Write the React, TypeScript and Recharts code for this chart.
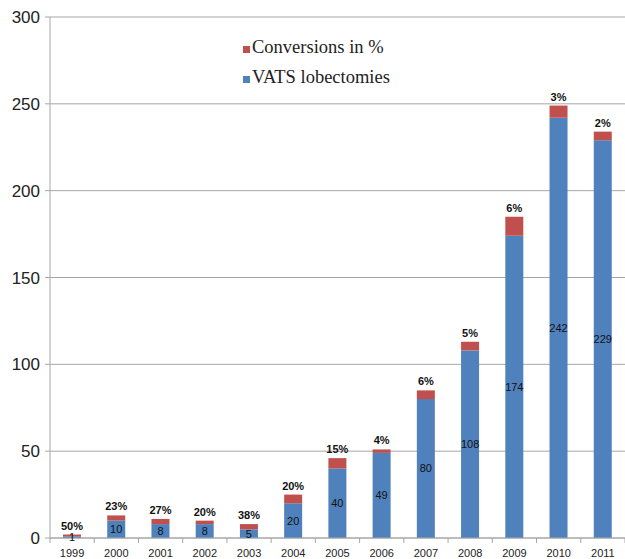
import { Bar, BarChart, CartesianGrid, LabelList, Legend, XAxis, YAxis } from "recharts";

const years = ["1999", "2000", "2001", "2002", "2003", "2004", "2005", "2006", "2007", "2008", "2009", "2010", "2011"];
const vats = [1, 10, 8, 8, 5, 20, 40, 49, 80, 108, 174, 242, 229];
const conversions = [1, 3, 3, 2, 3, 5, 6, 2, 5, 5, 11, 7, 5];
const convPct = ["50%", "23%", "27%", "20%", "38%", "20%", "15%", "4%", "6%", "5%", "6%", "3%", "2%"];
const yTicks = [0, 50, 100, 150, 200, 250, 300];

const BLUE = "#4F81BD";
const RED = "#C0504D";
const AXIS = "#A6A6A6";

const data = years.map((year, i) => ({
  year,
  vats: vats[i],
  conv: conversions[i],
  pct: convPct[i],
}));

const BAND = 575 / years.length;

function YearTick(props: any) {
  const { x, y, payload, index } = props;
  return (
    <g>
      <line x1={x - BAND / 2} x2={x - BAND / 2} y1={y} y2={y + 5} stroke={AXIS} />
      {index === years.length - 1 && (
        <line x1={x + BAND / 2} x2={x + BAND / 2} y1={y} y2={y + 5} stroke={AXIS} />
      )}
      <text x={x} y={y + 19} textAnchor="middle" fontSize={11} fill="#222" fontFamily="'Liberation Sans', Arial, sans-serif">
        {payload.value}
      </text>
    </g>
  );
}

function LegendBox() {
  const rows = [
    { color: RED, label: "Conversions in %" },
    { color: BLUE, label: "VATS lobectomies" },
  ];
  return (
    <div style={{ fontFamily: "'Liberation Serif', 'Times New Roman', serif", fontSize: 18.5, color: "#222" }}>
      {rows.map((r) => (
        <div key={r.label} style={{ display: "flex", alignItems: "center", height: 30, lineHeight: "30px" }}>
          <span style={{ display: "inline-block", width: 7, height: 7, background: r.color, marginRight: 2, marginTop: 5 }} />
          {r.label}
        </div>
      ))}
    </div>
  );
}

export default function App() {
  return (
    <div style={{ position: "absolute", left: 0, top: 0, background: "#fff" }}>
      <BarChart width={625} height={559} data={data} margin={{ top: 17, right: 0, left: 0, bottom: 0 }} barSize={18}>
        <CartesianGrid vertical={false} stroke={AXIS} strokeWidth={1} />
        <XAxis
          dataKey="year"
          height={21}
          tickLine={false}
          tickSize={0}
          tickMargin={0}
          axisLine={{ stroke: AXIS }}
          tick={<YearTick />}
          interval={0}
        />
        <YAxis
          width={50}
          domain={[0, 300]}
          ticks={yTicks}
          tickSize={5}
          tickMargin={5}
          axisLine={{ stroke: AXIS }}
          tickLine={{ stroke: AXIS }}
          tick={{ fill: "#222", fontSize: 17, fontFamily: "'Liberation Sans', Arial, sans-serif" }}
        />
        <Legend
          layout="vertical"
          align="center"
          verticalAlign="middle"
          wrapperStyle={{ left: 243, top: 32, width: 190 }}
          content={<LegendBox />}
        />
        <Bar dataKey="vats" stackId="a" fill={BLUE} isAnimationActive={false}>
          <LabelList
            dataKey="vats"
            position="center"
            fill="#111"
            fontSize={11}
            fontFamily="'Liberation Sans', Arial, sans-serif"
          />
        </Bar>
        <Bar dataKey="conv" stackId="a" fill={RED} isAnimationActive={false}>
          <LabelList
            dataKey="pct"
            position="top"
            offset={5}
            fill="#111"
            fontSize={11}
            fontWeight="bold"
            fontFamily="'Liberation Sans', Arial, sans-serif"
          />
        </Bar>
      </BarChart>
    </div>
  );
}
